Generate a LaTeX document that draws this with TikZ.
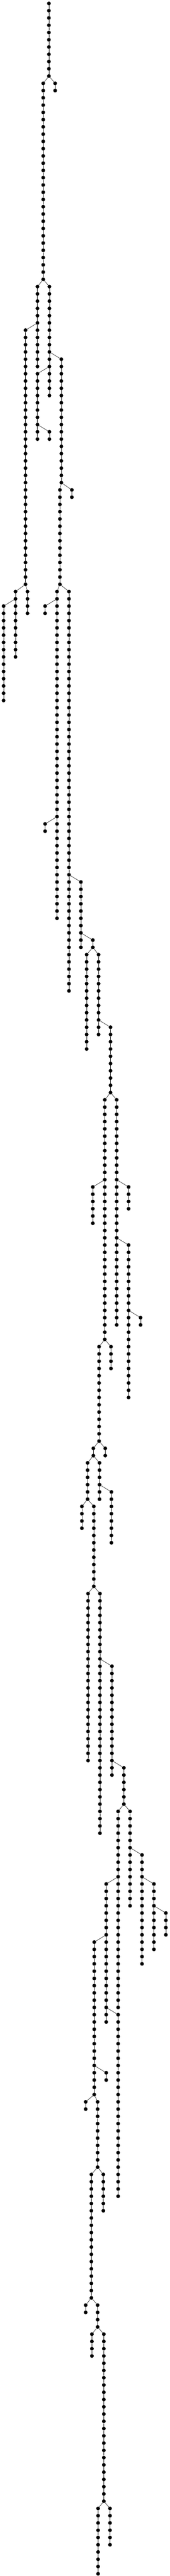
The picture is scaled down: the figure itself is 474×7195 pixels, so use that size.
\documentclass[tikz,border=0pt]{standalone}
\usepackage{tikz}

\begin{document}
\begin{tikzpicture}[x=1pt,y=1pt,
	dot/.style={circle,fill=black,inner sep=0pt,minimum size=10.5pt},
	link/.style={black!85,line width=1pt}]
	\useasboundingbox (0,0) rectangle (474,-7195);
	
	% trunk
	\foreach \r in {0,...,10} \node[dot] (A-\r) at (136.7,{-9.6-20.28*\r}) {};
	\foreach \r in {1,...,10}{
		\pgfmathtruncatemacro\q{\r-1}
		\draw[link] (A-\q) -- (A-\r);
	}
	
	% branches: name / x / first row / last row / parent node
	\foreach \nm/\x/\first/\last/\up in {
		B/120.7/11/38/A-10, C/154.0/11/12/A-10,
		D/104.7/39/50/B-38, G/138.0/39/54/B-38,
		I/71.3/45/80/D-44, H/171.3/49/66/G-48,
		E/104.7/51/60/G-50, F/138.0/59/60/E-58,
		M/200.7/67/68/H-66, N/167.3/67/80/H-66,
		K/43.3/81/90/I-80, J/76.7/81/84/I-80,
		L/10.0/83/96/K-82,
		O/159.3/81/126/N-80, Q/192.7/81/136/N-80,
		P/126.0/83/84/O-82, R/126.0/113/114/O-112,
		S/226.0/121/130/Q-120, T/259.3/129/130/S-128,
		U/242.0/131/144/T-130, V/275.3/131/142/T-130,
		W/308.7/141/150/V-140,
		X/292.7/151/184/W-150, Z/326.0/151/182/W-150,
		Y/259.3/163/168/X-162, AA/359.3/163/166/Z-162,
		AB/359.3/171/192/Z-170, AC/392.7/181/182/AB-180,
		AD/310.0/185/188/X-184, AE/276.7/185/198/X-184,
		AF/294.0/199/200/AE-198, AG/260.7/199/200/AE-198,
		AH/244.7/201/206/AG-200, AI/278.0/201/206/AG-200,
		AJ/311.3/205/212/AI-204,
		AK/228.7/207/210/AH-206, AL/262.0/207/218/AH-206,
		AM/246.0/219/242/AL-218, AN/279.3/219/252/AL-218,
		AO/312.7/229/244/AN-228, AP/346.0/243/248/AO-242,
		AQ/330.0/249/276/AP-248, AR/363.3/249/262/AP-248,
		AS/396.7/255/270/AR-254, AV/296.7/259/278/AQ-258,
		AT/430.0/259/268/AS-258, AU/463.3/263/266/AT-262,
		AX/263.3/267/288/AV-266, AW/330.0/277/302/AV-276,
		AY/296.7/285/286/AX-284,
		AZ/239.3/289/290/AX-288, BA/272.7/289/298/AX-288,
		BB/288.7/299/304/BA-298, BC/255.3/299/316/BA-298,
		BD/239.3/317/318/BC-316, BE/272.7/317/320/BC-316,
		BF/256.7/321/324/BE-320, BG/290.0/321/344/BE-320,
		BH/274.0/345/354/BG-344, BI/307.3/345/350/BG-344}{
		\foreach \r in {\first,...,\last} \node[dot] (\nm-\r) at (\x,{-9.6-20.28*\r}) {};
		\draw[link] (\up) -- (\nm-\first);
		\foreach \r in {\first,...,\last}{
			\ifnum\r>\first
				\pgfmathtruncatemacro\q{\r-1}
				\draw[link] (\nm-\q) -- (\nm-\r);
			\fi
		}
	}
\end{tikzpicture}
\end{document}
